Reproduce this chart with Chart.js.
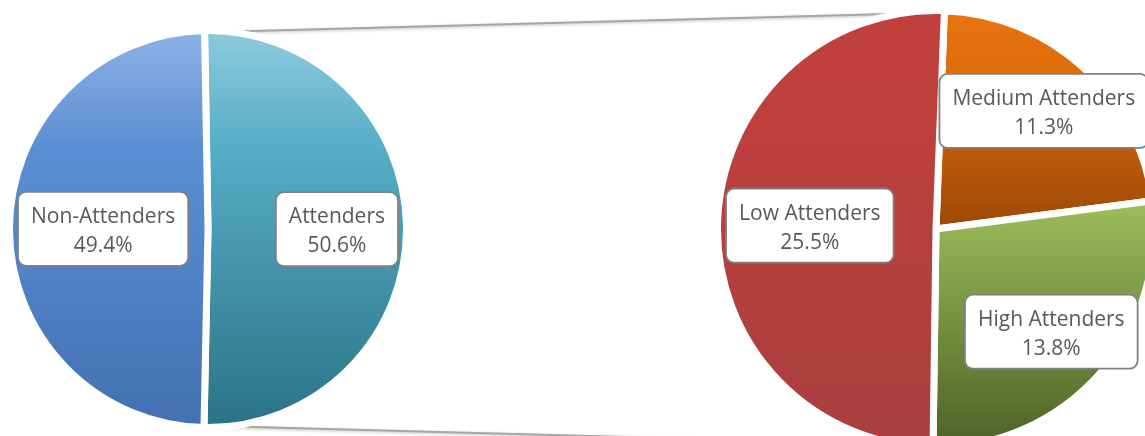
<!DOCTYPE html>
<html>
<head>
<meta charset="utf-8">
<script src="https://cdn.jsdelivr.net/npm/chart.js@4.4.0/dist/chart.umd.min.js"></script>
<style>
  html, body { margin: 0; padding: 0; background: #fff; overflow: hidden; }
  body { width: 1145px; height: 436px; position: relative; }
  .pie { position: absolute; }
  #mainBox { left: 6px; top: 27px; width: 404px; height: 404px; }
  #detailBox { left: 714px; top: 7px; width: 444px; height: 444px; }
  #links { position: absolute; left: 0; top: 0; }
</style>
</head>
<body>
<canvas id="links" width="1145" height="436"></canvas>
<div class="pie" id="mainBox"><canvas id="mainPie"></canvas></div>
<div class="pie" id="detailBox"><canvas id="detailPie"></canvas></div>
<script>
// Attendance split: main pie plus the breakdown of the attenders slice
const mainLabels = ['Attenders', 'Non-Attenders'];
const mainValues = [50.6, 49.4];
const detailLabels = ['Medium Attenders', 'High Attenders', 'Low Attenders'];
const detailValues = [11.3, 13.8, 25.5];

// gradient stops per slice, top -> bottom
const mainColors = [
    ['#8dcadb', '#55adc6', '#2b7386'],
    ['#8db1e4', '#5a8fd5', '#4371b2']
];
const detailColors = [
    ['#e8720f', '#df6c0d', '#9b4807'],
    ['#9dbe5b', '#84a24a', '#4e6126'],
    ['#c1403d', '#bc403d', '#a93f3f']
];

const GAP = 7;
const FONT = '21px "Open Sans", sans-serif';
const LINE_H = 29;

// vertical extent of a slice, used to stretch the gradient over it
function sliceExtent(values, index, rotation, cy, r) {
    const total = values.reduce((a, b) => a + b, 0);
    let before = 0;
    for (let i = 0; i < index; i++) before += values[i];
    const a0 = (rotation - 90) * Math.PI / 180 + before / total * Math.PI * 2;
    const a1 = a0 + values[index] / total * Math.PI * 2;
    const ys = [cy, cy + r * Math.sin(a0), cy + r * Math.sin(a1)];
    const has = a => {
        for (let k = -2; k <= 2; k++) {
            const x = a + k * 2 * Math.PI;
            if (x >= a0 && x <= a1) return true;
        }
        return false;
    };
    if (has(Math.PI / 2)) ys.push(cy + r);
    if (has(-Math.PI / 2)) ys.push(cy - r);
    return [Math.min(...ys), Math.max(...ys)];
}

function gradientFill(stops, rotation) {
    return function(context) {
        const chart = context.chart;
        const area = chart.chartArea;
        const s = stops[context.dataIndex];
        if (!area) return s[1];
        const r = (Math.min(area.width, area.height) - GAP) / 2;
        const cy = (area.top + area.bottom) / 2;
        const [y0, y1] = sliceExtent(context.dataset.data, context.dataIndex, rotation, cy, r);
        const g = chart.ctx.createLinearGradient(0, y0, 0, y1);
        g.addColorStop(0, s[0]);
        g.addColorStop(0.3, s[1]);
        g.addColorStop(1, s[2]);
        return g;
    };
}

// boxed labels, pushed out along the slice middle until the box meets the rim
const boxLabels = {
    id: 'boxLabels',
    afterDatasetsDraw(chart) {
        const ctx = chart.ctx;
        const meta = chart.getDatasetMeta(0);
        const labels = chart.data.labels;
        const data = chart.data.datasets[0].data;
        ctx.save();
        ctx.font = FONT;
        meta.data.forEach((arc, i) => {
            const lines = [labels[i], data[i].toFixed(1) + '%'];
            const tw = Math.max(...lines.map(l => ctx.measureText(l).width));
            const hw = tw / 2 + 13;
            const hh = lines.length * LINE_H / 2 + 8;
            const mid = (arc.startAngle + arc.endAngle) / 2;
            const ux = Math.cos(mid), uy = Math.sin(mid);
            const t = Math.min(
                Math.abs(ux) > 1e-6 ? hw / Math.abs(ux) : Infinity,
                Math.abs(uy) > 1e-6 ? hh / Math.abs(uy) : Infinity
            );
            const d = arc.outerRadius - GAP / 2 - 5 - t;
            const x = arc.x + ux * d, y = arc.y + uy * d;
            ctx.beginPath();
            ctx.roundRect(x - hw, y - hh, hw * 2, hh * 2, 8);
            ctx.fillStyle = '#ffffff';
            ctx.fill();
            ctx.lineWidth = 1.8;
            ctx.strokeStyle = '#808080';
            ctx.stroke();
            ctx.fillStyle = '#595959';
            ctx.textAlign = 'center';
            ctx.textBaseline = 'alphabetic';
            lines.forEach((l, k) => ctx.fillText(l, x, y - hh + 8 + LINE_H * (k + 1) - 6));
        });
        ctx.restore();
    }
};

function makePie(canvasId, labels, values, colors, rotation) {
    const ctx = document.getElementById(canvasId)?.getContext('2d');
    if (!ctx) return null;
    return new Chart(ctx, {
        type: 'pie',
        data: {
            labels: labels,
            datasets: [{
                data: values,
                backgroundColor: gradientFill(colors, rotation),
                borderColor: '#ffffff',
                borderWidth: GAP,
                hoverOffset: 0
            }]
        },
        options: {
            responsive: true,
            maintainAspectRatio: false,
            animation: false,
            rotation: rotation,
            events: [],
            plugins: {
                legend: { display: false },
                tooltip: { enabled: false }
            }
        },
        plugins: [boxLabels]
    });
}

const mainPie = makePie('mainPie', mainLabels, mainValues, mainColors, -1);
const detailPie = makePie('detailPie', detailLabels, detailValues, detailColors, 2.2);

// connector lines from the main pie to the breakdown pie
function drawLinks() {
    const canvas = document.getElementById('links');
    const ctx = canvas.getContext('2d');
    const a = mainPie.getDatasetMeta(0).data[0];
    const b = detailPie.getDatasetMeta(0).data[0];
    const oa = mainPie.canvas.getBoundingClientRect();
    const ob = detailPie.canvas.getBoundingClientRect();
    const ax = oa.left + a.x, ay = oa.top + a.y, ar = a.outerRadius - GAP / 2;
    const bx = ob.left + b.x, by = ob.top + b.y, br = b.outerRadius - GAP / 2;
    ctx.clearRect(0, 0, canvas.width, canvas.height);
    ctx.save();
    ctx.strokeStyle = '#a6a6a6';
    ctx.lineWidth = 2;
    ctx.shadowColor = 'rgba(0,0,0,0.25)';
    ctx.shadowBlur = 3;
    ctx.shadowOffsetY = 1;
    [-1, 1].forEach(s => {
        ctx.beginPath();
        ctx.moveTo(ax + GAP, ay + s * (ar + 2));
        ctx.lineTo(bx - 10, by + s * (br + 1));
        ctx.stroke();
    });
    ctx.restore();
}

drawLinks();
</script>
</body>
</html>
